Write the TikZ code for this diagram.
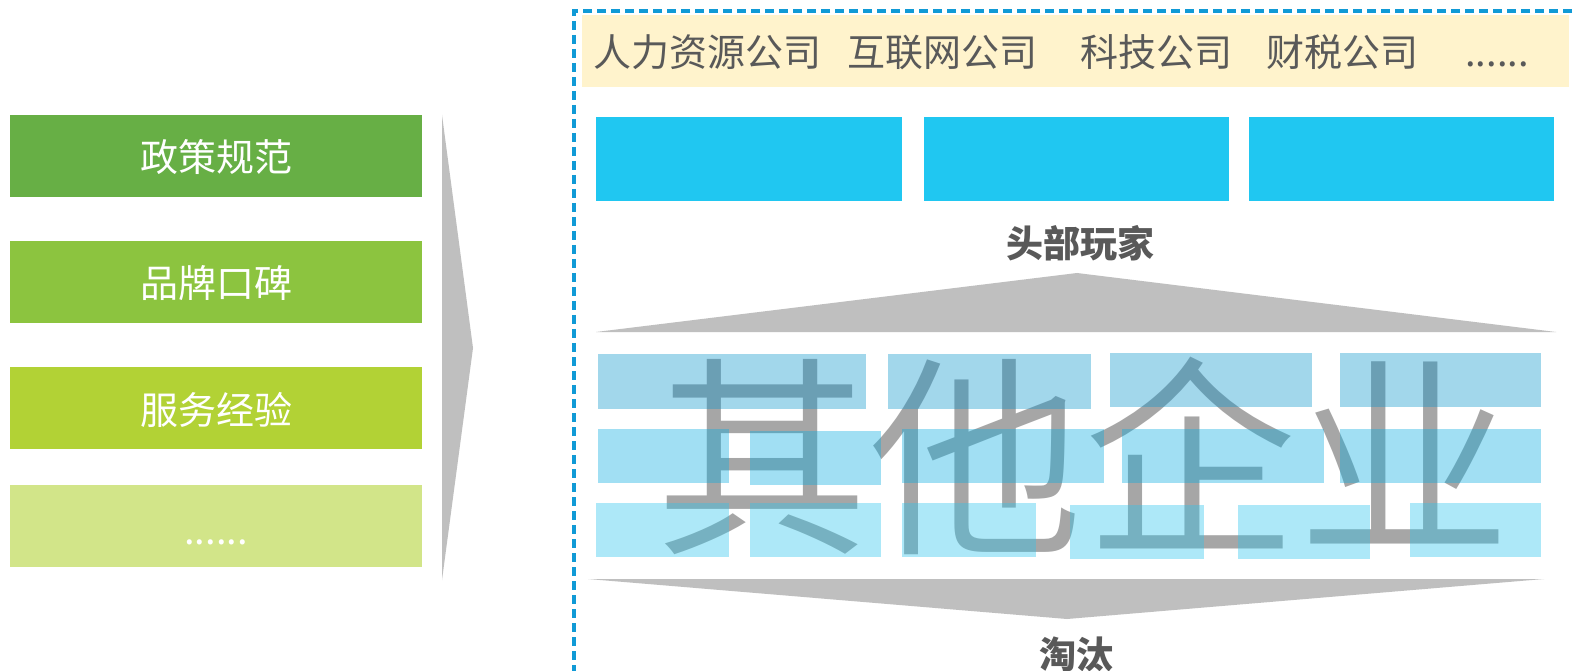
\documentclass[tikz,border=0pt]{standalone}
\usepackage{fontspec}
\setmainfont{Noto Sans CJK SC}
\newfontfamily\bigfont{Noto Sans CJK SC DemiLight}
\definecolor{gA}{HTML}{67AF45}
\definecolor{gB}{HTML}{8CC43F}
\definecolor{gC}{HTML}{B2D235}
\definecolor{gD}{HTML}{D2E589}
\definecolor{cyanbox}{HTML}{20C7F1}
\definecolor{yband}{HTML}{FFF3CC}
\definecolor{arrgray}{HTML}{BFBFBF}
\definecolor{dashblue}{HTML}{109AD6}
\definecolor{txtgray}{HTML}{595959}
\definecolor{biggray}{HTML}{A6A6A6}
\definecolor{rowA}{RGB}{13,150,205}
\definecolor{rowB}{RGB}{8,173,226}
\definecolor{rowC}{RGB}{42,197,237}
\tikzset{
  lbl/.style={anchor=base,inner sep=0pt,text=white,font=\fontsize{38}{42}\selectfont},
  ylbl/.style={anchor=base,inner sep=0pt,text=txtgray,font=\fontsize{38}{42}\selectfont},
  hlbl/.style={anchor=base,inner sep=0pt,text=txtgray,font=\bfseries\fontsize{37}{42}\selectfont},
  rA/.style={fill=rowA,fill opacity=0.38},
  rB/.style={fill=rowB,fill opacity=0.38},
  rC/.style={fill=rowC,fill opacity=0.38},
}
\begin{document}
\begin{tikzpicture}[x=1pt,y=-1pt]
\useasboundingbox (0,0) rectangle (1575,671);
\clip (0,0) rectangle (1575,671);
\fill[white] (0,0) rectangle (1575,671);
% left column
\fill[gA] (10,115) rectangle (422,197);
\fill[gB] (10,241) rectangle (422,323);
\fill[gC] (10,367) rectangle (422,449);
\fill[gD] (10,485) rectangle (422,567);
\node[lbl] (t1) at (216,172) {政策规范};
\node[lbl] (t2) at (216,298) {品牌口碑};
\node[lbl] (t3) at (216,424) {服务经验};
\node[lbl] (t4) at (216,544) {......};
\fill[arrgray] (442,115) -- (473,348) -- (442,580) -- cycle;
% dashed frame
\draw[dashblue,line width=3.2pt,dash pattern=on 9pt off 5pt] (1600,11) -- (574,11) -- (574,700);
% yellow band
\fill[yband] (582,15) rectangle (1569,87);
\node[ylbl] (y1) at (707,66.5) {人力资源公司};
\node[ylbl] (y2) at (942,66.5) {互联网公司};
\node[ylbl] (y3) at (1156,66.5) {科技公司};
\node[ylbl] (y4) at (1342,66.5) {财税公司};
\node[ylbl] (y5) at (1497,66.5) {......};
% cyan boxes
\fill[cyanbox] (596,117.5) rectangle (902,201);
\fill[cyanbox] (924,117.5) rectangle (1229,201);
\fill[cyanbox] (1249,117.5) rectangle (1554,201);
\node[hlbl] (head) at (1080,258) {头部玩家};
\fill[arrgray] (596,332) -- (1077,273) -- (1556,332) -- cycle;
% big text
\node[anchor=base,inner sep=0pt,text=biggray,font=\bigfont\fontsize{214}{220}\selectfont] (big) at (1083,538) {其他企业};
% translucent rects
\fill[rA] (598,354) rectangle (866,409);
\fill[rA] (888,354) rectangle (1091,409);
\fill[rA] (1110,353) rectangle (1312,407);
\fill[rA] (1340,353) rectangle (1541,407);
\fill[rB] (598,429) rectangle (729,483);
\fill[rB] (750,431) rectangle (881,485);
\fill[rB] (902,429) rectangle (1104,483);
\fill[rB] (1122,429) rectangle (1324,483);
\fill[rB] (1340,429) rectangle (1541,483);
\fill[rC] (596,503) rectangle (729,557);
\fill[rC] (750,503) rectangle (881,557);
\fill[rC] (902,503) rectangle (1036,557);
\fill[rC] (1070,505) rectangle (1204,559);
\fill[rC] (1238,505) rectangle (1370,559);
\fill[rC] (1410,503) rectangle (1541,557);
% down arrow
\fill[arrgray] (588,579) -- (1544,579) -- (1067,619) -- cycle;
\node[hlbl] (out) at (1076,668) {淘汰};
\end{tikzpicture}
\end{document}
